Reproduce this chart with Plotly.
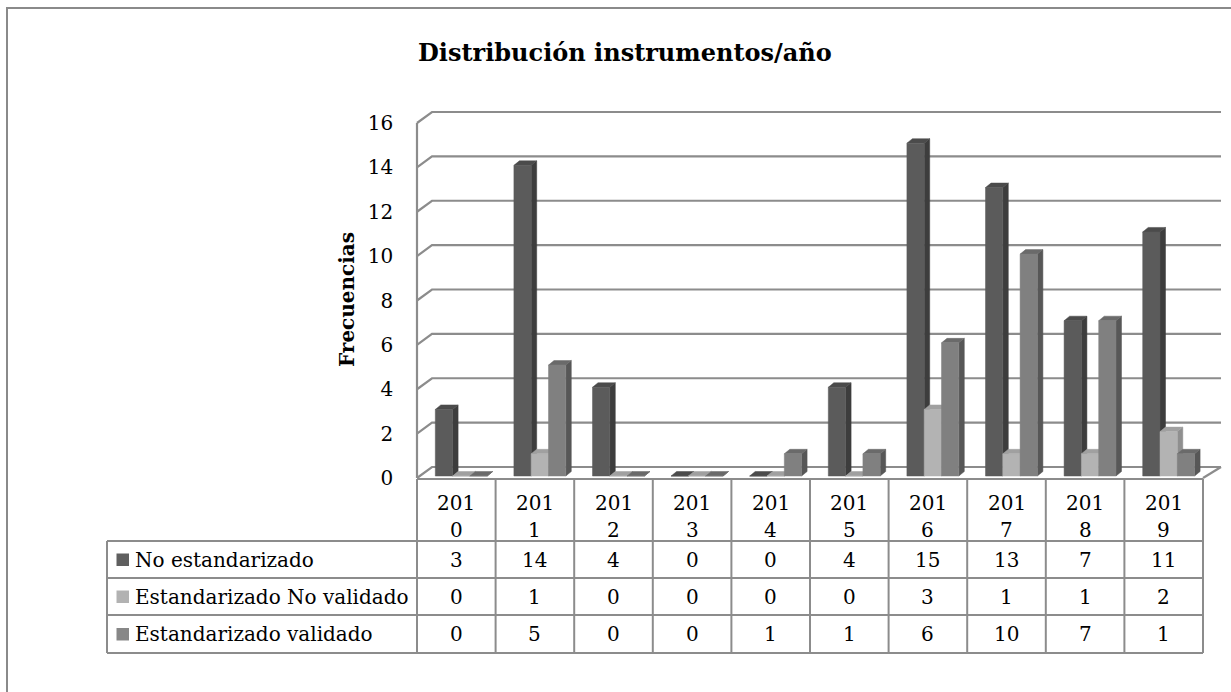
import plotly.graph_objects as go

# ---------------- data ----------------
years = ["2010", "2011", "2012", "2013", "2014", "2015", "2016", "2017", "2018", "2019"]
series_names = ["No estandarizado", "Estandarizado No validado", "Estandarizado validado"]
no_estandarizado = [3, 14, 4, 0, 0, 4, 15, 13, 7, 11]
estandarizado_no_validado = [0, 1, 0, 0, 0, 0, 3, 1, 1, 2]
estandarizado_validado = [0, 5, 0, 0, 1, 1, 6, 10, 7, 1]
y_ticks = [0, 2, 4, 6, 8, 10, 12, 14, 16]
title_text = "Distribución instrumentos/año"
y_title = "Frecuencias"

series_values = [no_estandarizado, estandarizado_no_validado, estandarizado_validado]

# ---------------- styles ----------------
W, H = 1231, 692
FONT = "DejaVu Serif"
TXT = 20
front_cols = ["#5b5b5b", "#b3b3b3", "#808080"]
side_cols = ["#3d3d3d", "#8f8f8f", "#575757"]
top_cols = ["#4b4b4b", "#a0a0a0", "#6a6a6a"]
legend_cols = ["#5f5f5f", "#b2b2b2", "#878787"]
GRID = "#8c8c8c"

# pixel geometry of plot
X0, X1 = 417, 1203          # category axis (front) pixel extent
Y0, Y16 = 478, 123          # value axis front pixels
CAT_PX = (X1 - X0) / len(years)
UNIT_PX = (Y0 - Y16) / 16.0

def px(x):
    return x / W

def py(y):
    return 1 - y / H

def xpix(v):
    return X0 + (v + 0.5) * CAT_PX

def ypix(v):
    return Y0 - v * UNIT_PX

# axis ranges (slightly larger than data area so 3D wall fits)
XR = [-0.6, 9.85]
YR = [-0.3, 16.9]

# 3D offsets in data units
WALL_DX = 15 / CAT_PX
WALL_DY = 11 / UNIT_PX
X_BACK_RIGHT = -0.5 + (1221 - X0) / CAT_PX
BAR_OFF = -21 / CAT_PX
BAR_W = 17.3 / CAT_PX
SIDE_DX = 5.5 / CAT_PX
SIDE_DY = 4.5 / UNIT_PX
BASE = 2 / UNIT_PX

fig = go.Figure()

# walls / gridlines
gx, gy = [], []
for t in y_ticks:
    gx += [-0.5, -0.5 + WALL_DX, X_BACK_RIGHT, None]
    gy += [t, t + WALL_DY, t + WALL_DY, None]
gx += [-0.5, -0.5, None, 9.5, X_BACK_RIGHT, None]
gy += [0, 16, None, 0, WALL_DY, None]
fig.add_trace(go.Scatter(x=gx, y=gy, mode="lines", line=dict(color=GRID, width=2.2),
                         hoverinfo="skip", showlegend=False, cliponaxis=False))

# bars (pseudo-3D faces)
for k, vals in enumerate(series_values):
    sx, sy, tx, ty, fx, fy = [], [], [], [], [], []
    for i, v in enumerate(vals):
        xl = i + BAR_OFF + k * BAR_W
        xr = xl + BAR_W
        b = BASE
        fx += [xl, xr, xr, xl, xl, None]
        fy += [b, b, b + v, b + v, b, None]
        sx += [xr, xr + SIDE_DX, xr + SIDE_DX, xr, xr, None]
        sy += [b, b + SIDE_DY, b + v + SIDE_DY, b + v, b, None]
        tx += [xl, xr, xr + SIDE_DX, xl + SIDE_DX, xl, None]
        ty += [b + v, b + v, b + v + SIDE_DY, b + v + SIDE_DY, b + v, None]
    for xs, ys, col in ((sx, sy, side_cols[k]), (tx, ty, top_cols[k]), (fx, fy, front_cols[k])):
        fig.add_trace(go.Scatter(x=xs, y=ys, mode="lines", fill="toself", fillcolor=col,
                                 line=dict(color=col, width=0.5), name=series_names[k],
                                 hoverinfo="skip", showlegend=False, cliponaxis=False))

shapes = []
annotations = []

# outer border
shapes.append(dict(type="path", xref="paper", yref="paper",
                   path=f"M {px(7)} {py(692)} L {px(7)} {py(8)} L {px(1231)} {py(8)}",
                   line=dict(color="#8a8a8a", width=2)))

# data table
TABLE_LEFT = 107
ROW_Y = [479, 541, 578, 615, 653]
for j in range(len(years) + 1):
    xx = X0 + j * CAT_PX
    shapes.append(dict(type="line", xref="paper", yref="paper", x0=px(xx), x1=px(xx),
                       y0=py(ROW_Y[0]), y1=py(ROW_Y[-1]), line=dict(color=GRID, width=2)))
shapes.append(dict(type="line", xref="paper", yref="paper", x0=px(X0), x1=px(X1),
                   y0=py(ROW_Y[0]), y1=py(ROW_Y[0]), line=dict(color=GRID, width=2)))
for r in ROW_Y[1:]:
    shapes.append(dict(type="line", xref="paper", yref="paper", x0=px(TABLE_LEFT), x1=px(X1),
                       y0=py(r), y1=py(r), line=dict(color=GRID, width=2)))
shapes.append(dict(type="line", xref="paper", yref="paper", x0=px(TABLE_LEFT), x1=px(TABLE_LEFT),
                   y0=py(ROW_Y[1]), y1=py(ROW_Y[-1]), line=dict(color=GRID, width=2)))

# header labels
for i, yr in enumerate(years):
    annotations.append(dict(x=i, xref="x", y=py(503), yref="paper", text=yr[:3], showarrow=False,
                            font=dict(family=FONT, size=TXT, color="#000"), xanchor="center", yanchor="middle"))
    annotations.append(dict(x=i, xref="x", y=py(530), yref="paper", text=yr[3:], showarrow=False,
                            font=dict(family=FONT, size=TXT, color="#000"), xanchor="center", yanchor="middle"))

# rows
for k, (name, vals) in enumerate(zip(series_names, series_values)):
    yc = (ROW_Y[k + 1] + ROW_Y[k + 2]) / 2
    shapes.append(dict(type="rect", xref="paper", yref="paper", x0=px(116.5), x1=px(129),
                       y0=py(yc + 6.5), y1=py(yc - 6), fillcolor=legend_cols[k], line=dict(width=0)))
    annotations.append(dict(x=px(133), xref="paper", y=py(yc), yref="paper", text=name, showarrow=False,
                            font=dict(family=FONT, size=TXT, color="#000"), xanchor="left", yanchor="middle"))
    for i, v in enumerate(vals):
        annotations.append(dict(x=i, xref="x", y=py(yc), yref="paper", text=str(v), showarrow=False,
                                font=dict(family=FONT, size=TXT, color="#000"), xanchor="center", yanchor="middle"))

# titles
annotations.append(dict(x=px(625), y=py(52), xref="paper", yref="paper", text=f"<b>{title_text}</b>",
                        showarrow=False, font=dict(family=FONT, size=24, color="#000"),
                        xanchor="center", yanchor="middle"))
annotations.append(dict(x=px(347), y=py(300), xref="paper", yref="paper", text=f"<b>{y_title}</b>",
                        showarrow=False, textangle=-90, font=dict(family=FONT, size=20, color="#000"),
                        xanchor="center", yanchor="middle"))

fig.update_layout(
    width=W, height=H, margin=dict(l=0, r=0, t=0, b=0, autoexpand=False),
    paper_bgcolor="white", plot_bgcolor="rgba(0,0,0,0)",
    showlegend=False, shapes=shapes, annotations=annotations,
    xaxis=dict(domain=[px(xpix(XR[0])), px(xpix(XR[1]))], range=XR, showgrid=False, zeroline=False,
               showticklabels=False, showline=False, fixedrange=True, automargin=False),
    yaxis=dict(domain=[py(ypix(YR[0])), py(ypix(YR[1]))], range=YR, tickvals=y_ticks, showgrid=False,
               zeroline=False, showline=False, ticks="", automargin=False,
               ticklabelstandoff=int(round(23 - (-0.5 - XR[0]) * CAT_PX)),
               tickfont=dict(family=FONT, size=TXT, color="#000"), fixedrange=True),
)

fig.write_html(
    "out.html",
    config={"displayModeBar": False},
    post_script="document.body.style.margin='0';document.body.style.overflow='hidden';",
)
